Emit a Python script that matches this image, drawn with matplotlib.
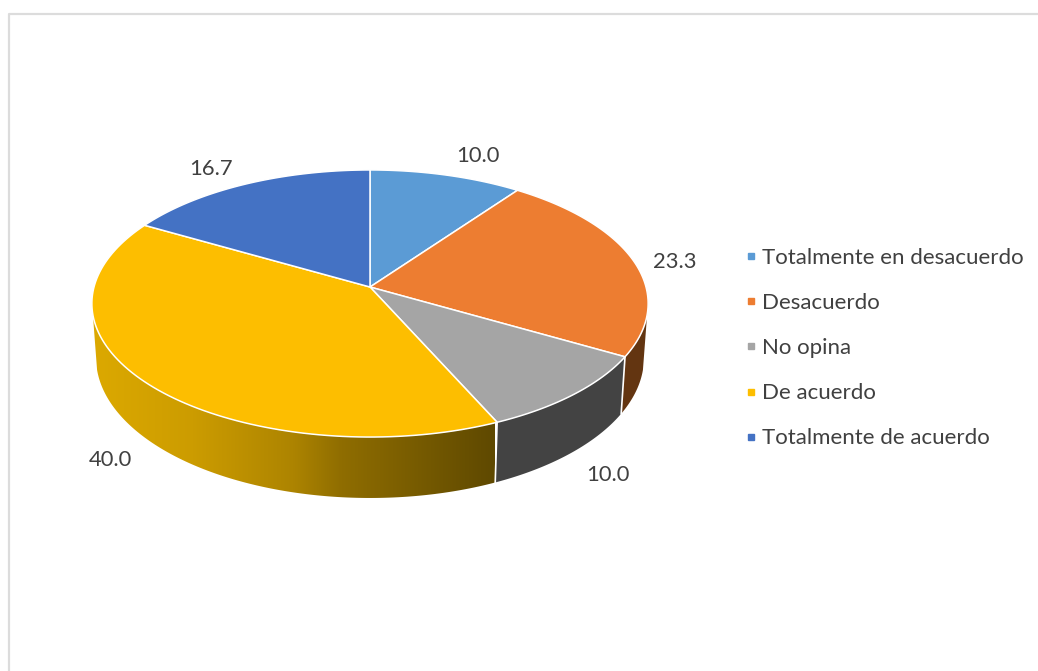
import matplotlib
import matplotlib.pyplot as plt
import numpy as np
from matplotlib.colors import LinearSegmentedColormap
from matplotlib.lines import Line2D
from matplotlib.patches import Polygon

matplotlib.use("Agg")

categories = [
    "Totalmente en desacuerdo",
    "Desacuerdo",
    "No opina",
    "De acuerdo",
    "Totalmente de acuerdo",
]
values = [10.0, 23.3, 10.0, 40.0, 16.7]
value_labels = ["10.0", "23.3", "10.0", "40.0", "16.7"]
colors = ["#5B9BD5", "#ED7D31", "#A5A5A5", "#FDBE00", "#4472C4"]

TEXT = "#404040"
FONT = "Lato"
CX, CY = 370, 287
RX, RY = 276, 131.5
PERSP = 0.1236
DEPTH = 53.4
SHRINK = 0.985


def project(deg):
    t = np.radians(deg)
    u, v = np.sin(t), np.cos(t)
    w = 1 + PERSP * v
    return CX + RX * u / w, CY - RY * v / w


def project_low(deg):
    t = np.radians(deg)
    w = 1 + PERSP * np.cos(t)
    x, y = project(deg)
    return CX + (x - CX) * SHRINK, y + DEPTH / w


def side_poly(a, b):
    th = np.linspace(a, b, 120)
    x1, y1 = project(th)
    x2, y2 = project_low(th)
    return np.column_stack([np.r_[x1, x2[::-1]], np.r_[y1, y2[::-1]]])


fig = plt.figure(figsize=(10.38, 6.71), dpi=100)
ax = fig.add_axes([0, 0, 1, 1])
ax.axis("off")

# chart frame, cut by the picture on the right and at the bottom
ax.plot([9, 9, 1038], [671, 13.5, 13.5], color="#dcdcdc", lw=1.6, zorder=1)

edges = np.r_[0, np.cumsum(values)] / sum(values) * 360

# side walls, the yellow one has a gradient
gold = LinearSegmentedColormap.from_list(
    "gold",
    [
        (0.0, "#DCA900"),
        (0.25, "#CC9C00"),
        (0.5, "#AD8400"),
        (0.62, "#8F6D00"),
        (1.0, "#5F4900"),
    ],
)
im = ax.imshow(
    np.linspace(0, 1, 256).reshape(1, -1),
    cmap=gold,
    aspect="auto",
    extent=(92, 495, 500, 290),
    zorder=2,
)
clip = Polygon(side_poly(edges[3], 258), transform=ax.transData, fc="none", ec="none")
ax.add_patch(clip)
im.set_clip_path(clip)

ax.add_patch(Polygon(side_poly(102, edges[2]), fc="#633511", ec="none", zorder=2))
ax.add_patch(Polygon(side_poly(edges[2], edges[3]), fc="#434343", ec="none", zorder=2))
for e in (edges[2], edges[3]):
    x1, y1 = project(e)
    x2, y2 = project_low(e)
    ax.plot([x1, x2], [y1, y2], color="white", lw=1.2, zorder=3)

# top face
for i, c in enumerate(colors):
    th = np.linspace(edges[i], edges[i + 1], 100)
    x, y = project(th)
    pts = np.column_stack([np.r_[CX, x], np.r_[CY, y]])
    ax.add_patch(Polygon(pts, fc=c, ec="white", lw=1.1, joinstyle="round", zorder=4))

# value labels, offset from the rim at the middle of each slice
label_offsets = [(32, -19), (42, 2), (34, 81), (-36, 77), (-34, -15)]
for i, txt in enumerate(value_labels):
    x, y = project((edges[i] + edges[i + 1]) / 2)
    dx, dy = label_offsets[i]
    ax.text(x + dx, y + dy, txt, color=TEXT, family=FONT, fontsize=15.8,
            ha="center", va="center", zorder=5)

handles = [
    Line2D([], [], marker="s", ls="none", color=c, markersize=5, label=n)
    for c, n in zip(colors, categories)
]
ax.legend(
    handles=handles,
    loc="upper left",
    bbox_to_anchor=(744.5, 248),
    bbox_transform=ax.transData,
    frameon=False,
    prop={"family": FONT, "size": 16},
    labelcolor=TEXT,
    borderpad=0,
    borderaxespad=0,
    handlelength=0.6,
    handletextpad=0.2,
    labelspacing=1.13,
)

ax.set_xlim(0, 1038)
ax.set_ylim(671, 0)
fig.savefig("out.png", dpi=100, facecolor="white")
